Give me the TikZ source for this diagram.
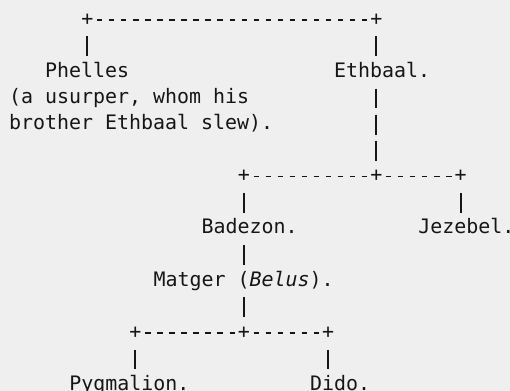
\documentclass[tikz,border=0pt]{standalone}
\usepackage{fontspec}
\usepackage{xcolor}
\newfontfamily\treefont{DejaVu Sans Mono}
\definecolor{paper}{RGB}{239,239,239}
\definecolor{ink}{RGB}{22,22,22}

\begin{document}
\begin{tikzpicture}[x=6.02pt, y=-13.05pt, every node/.style={anchor=base west,
      inner sep=0pt, text height=7.58pt, text depth=2.35pt, text=ink,
      font=\treefont\fontsize{9.97pt}{13.05pt}\selectfont},
      hcon/.style={draw=ink, line width=0.85pt, dash pattern=on 2.65pt off 3.37pt,
      dash phase=4.335pt},
      vcon/.style={draw=ink, line width=1pt, dash pattern=on 9.93pt off 3.12pt,
      dash phase=9.93pt} ]
  \useasboundingbox[fill=paper] (-0.72,0.04) rectangle (41.64,15.02);
  \node (j1) at (6,1) {+};
  \node (j2) at (30,1) {+};
  \node (phelles) at (3,3) {Phelles};
  \node (usurper) at (0,4) {(a usurper, whom his};
  \node (slew) at (0,5) {brother Ethbaal slew).};
  \node (ethbaal) at (27,3) {Ethbaal.};
  \node (j3) at (19,7) {+};
  \node (j4) at (30,7) {+};
  \node (j5) at (37,7) {+};
  \node (badezon) at (16,9) {Badezon.};
  \node (jezebel) at (34,9) {Jezebel.};
  \node (matger) at (12,11) {Matger (\textit{Belus}).};
  \node (j6) at (10,13) {+};
  \node (j7) at (19,13) {+};
  \node (j8) at (26,13) {+};
  \node (pygmalion) at (5,15) {Pygmalion.};
  \node (dido) at (25,15) {Dido.};

  \draw[hcon] (j1) -- (j2);
  \draw[vcon] (j1.south) -- (j1 |- phelles.north);
  \draw[vcon] (j2.south) -- (j2 |- ethbaal.north);
  \draw[vcon] (j2 |- ethbaal.south) -- (j4.north);
  \draw[hcon] (j3) -- (j4);
  \draw[hcon] (j4) -- (j5);
  \draw[vcon] (j3.south) -- (j3 |- badezon.north);
  \draw[vcon] (j5.south) -- (j5 |- jezebel.north);
  \draw[vcon] (j3 |- badezon.south) -- (j3 |- matger.north);
  \draw[vcon] (j3 |- matger.south) -- (j7.north);
  \draw[hcon] (j6) -- (j7);
  \draw[hcon] (j7) -- (j8);
  \draw[vcon] (j6.south) -- (j6 |- pygmalion.north);
  \draw[vcon] (j8.south) -- (j8 |- dido.north);
\end{tikzpicture}
\end{document}
